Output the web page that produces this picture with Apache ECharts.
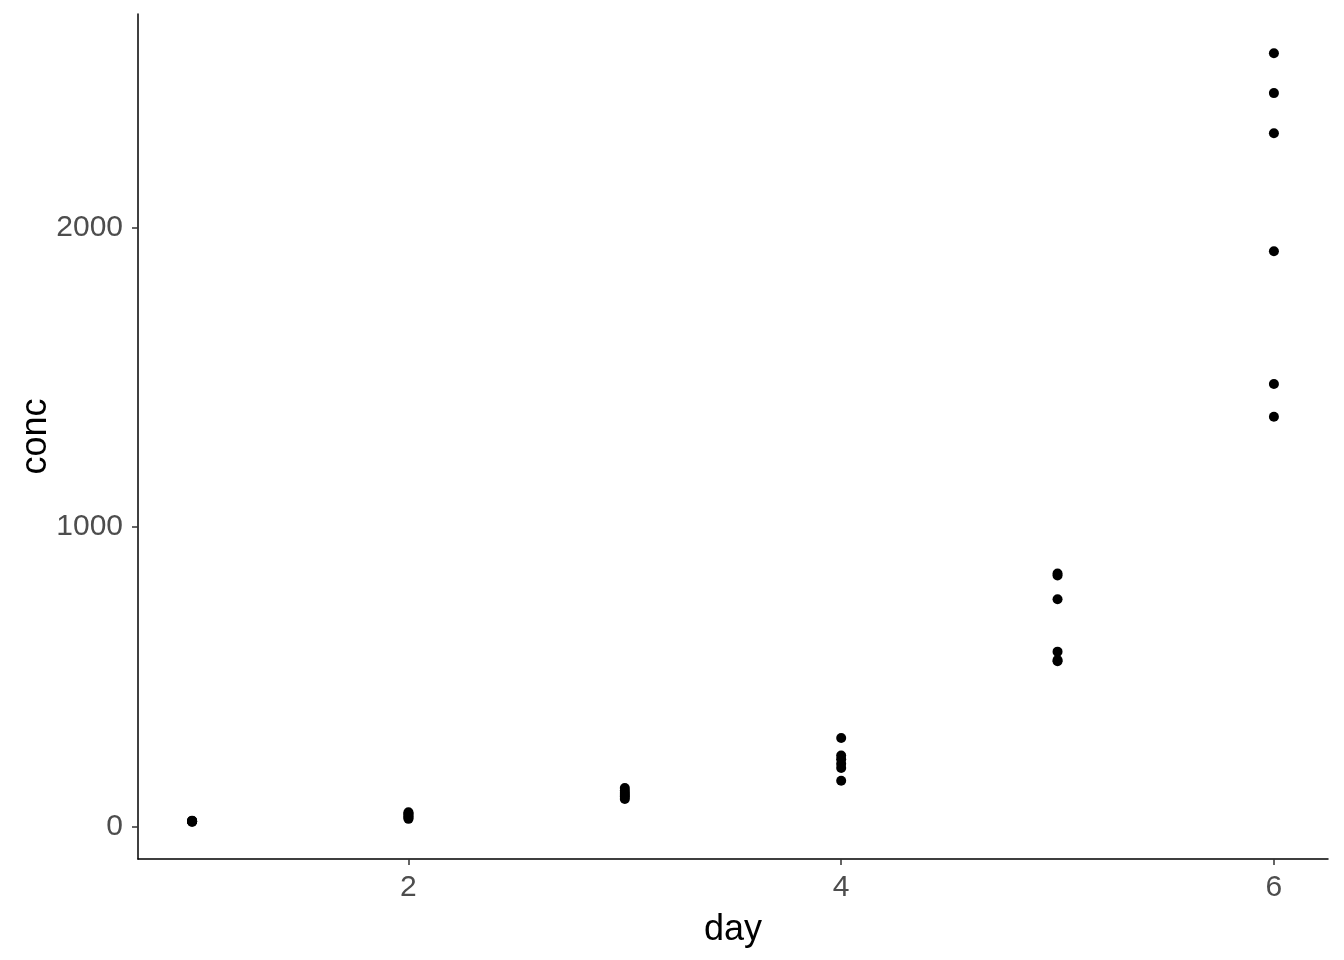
<!DOCTYPE html>
<html>
<head>
<meta charset="utf-8">
<script src="https://cdn.jsdelivr.net/npm/echarts@6/dist/echarts.min.js"></script>
<style>html,body{margin:0;padding:0;background:#fff}#c{width:1344px;height:960px}</style>
</head>
<body>
<div id="c"></div>
<script>
const days = [1, 2, 3, 4, 5, 6];
const concDay1 = [16, 17, 18, 18, 19, 20];
const concDay2 = [26, 30, 35, 40, 44, 48];
const concDay3 = [92, 100, 106, 112, 120, 129];
const concDay4 = [296, 237, 225, 210, 196, 153];
const concDay5 = [845, 838, 759, 584, 556, 552];
const concDay6 = [2581, 2448, 2314, 1920, 1477, 1368];
const xTicks = [2, 4, 6];
const yTicks = [0, 1000, 2000];

const groups = [concDay1, concDay2, concDay3, concDay4, concDay5, concDay6];
const points = [];
groups.forEach((g, i) => g.forEach(v => points.push([days[i], v])));

const chart = echarts.init(document.getElementById('c'), null, {renderer: 'canvas'});
const labelFont = {color: '#4D4D4D', fontSize: 30, fontFamily: 'Liberation Sans, Arial, sans-serif'};
const nameFont = {color: '#000', fontSize: 36, fontFamily: 'Liberation Sans, Arial, sans-serif'};
chart.setOption({
  animation: false,
  backgroundColor: '#fff',
  grid: {left: 138, right: 16, top: 14, bottom: 101, containLabel: false},
  xAxis: {
    type: 'value', min: 0.75, max: 6.25,
    name: 'day', nameLocation: 'middle', nameGap: 53, nameTextStyle: nameFont,
    axisLine: {show: true, onZero: false, lineStyle: {color: '#000', width: 1.5}},
    axisTick: {show: true, length: 6, customValues: xTicks, lineStyle: {color: '#333', width: 1.5}},
    axisLabel: Object.assign({customValues: xTicks, margin: 14, formatter: v => String(v)}, labelFont),
    splitLine: {show: false}
  },
  yAxis: {
    type: 'value', min: -108, max: 2712,
    name: 'conc', nameLocation: 'middle', nameGap: 84, nameRotate: 90, nameMoveOverlap: false,
    nameTextStyle: nameFont,
    axisLine: {show: true, onZero: false, lineStyle: {color: '#000', width: 1.5}},
    axisTick: {show: true, length: 6, customValues: yTicks, lineStyle: {color: '#333', width: 1.5}},
    axisLabel: Object.assign({customValues: yTicks, margin: 15, formatter: v => String(v)}, labelFont),
    splitLine: {show: false}
  },
  series: [{
    type: 'scatter', data: points, symbol: 'circle', symbolSize: 10,
    itemStyle: {color: '#000', opacity: 1}
  }]
});
</script>
</body>
</html>
